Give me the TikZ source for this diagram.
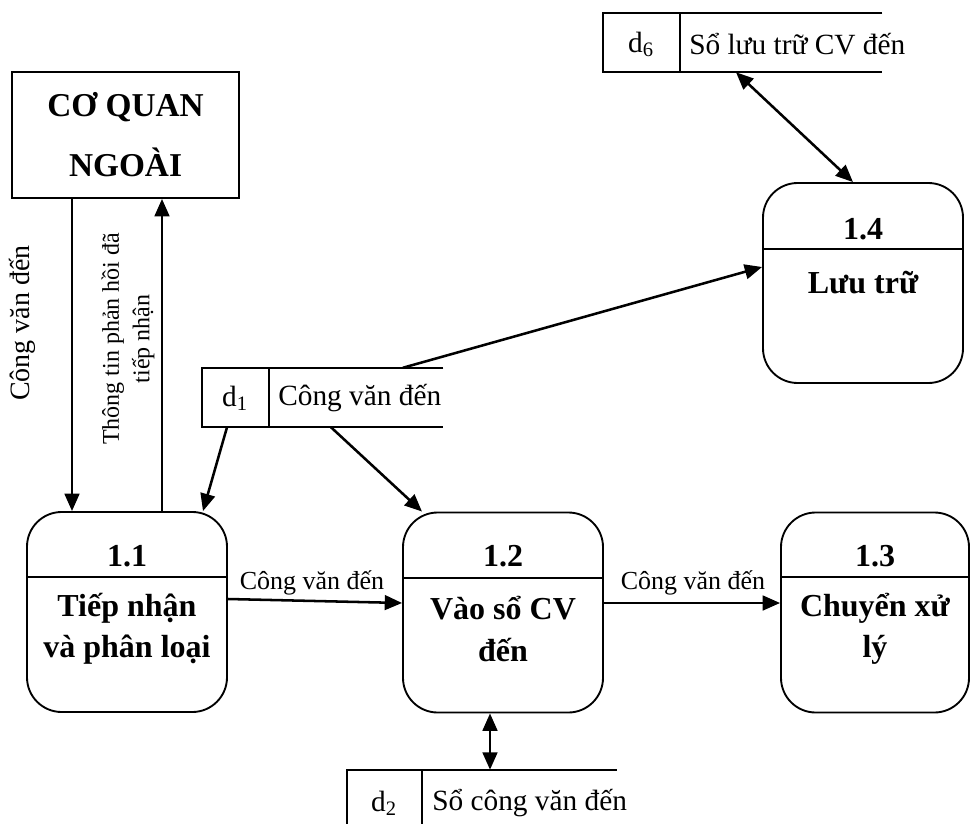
\documentclass[tikz,border=0pt]{standalone}
\usepackage{fontspec}
\setmainfont{Liberation Serif}
\usetikzlibrary{arrows.meta}

\begin{document}
\begin{tikzpicture}[x=0.75pt,y=-0.75pt,
  box/.style={draw,line width=1.4pt,inner sep=0pt},
  proc/.style={box,rounded corners=26pt,minimum width=150pt,minimum height=150pt},
  storeframe/.style={line width=1.4pt},
  tip/.style={},
  flow/.style={line width=1.9pt,-{Triangle[length=13pt,width=11pt]}},
  bothflow/.style={line width=1.9pt,{Triangle[length=13pt,width=11pt]}-{Triangle[length=13pt,width=11pt]}},
  bigtxt/.style={font=\fontsize{24}{31}\selectfont\bfseries,align=center,inner sep=0pt},
  storetxt/.style={font=\fontsize{22}{26}\selectfont,inner sep=0pt},
  flowtxt/.style={font=\fontsize{19.5}{23}\selectfont,inner sep=0pt},
]
\useasboundingbox (0,0) rectangle (971,824);

% external entity
\node[box,minimum width=170.25pt,minimum height=94.5pt] (ext) at (125.5,135) {};
\node[bigtxt,font=\fontsize{25}{45}\selectfont\bfseries] (extname) at (125.5,135) {CƠ QUAN\\NGOÀI};

% processes
\node[proc] (p1) at (127,612) {};
\draw[line width=1.4pt] (p1.west |- 0,577) -- (p1.east |- 0,577);
\node[bigtxt] (n1) at (127,556) {1.1};
\node[bigtxt] (t1) at (127,629) {Tiếp nhận\\và phân loại};

\node[proc] (p2) at (503,612.5) {};
\draw[line width=1.4pt] (p2.west |- 0,578) -- (p2.east |- 0,578);
\node[bigtxt] (n2) at (503,556) {1.2};
\node[bigtxt] (t2) at (503,629) {Vào sổ CV\\đến};

\node[proc,minimum width=141pt] (p3) at (875,612.5) {};
\draw[line width=1.4pt] (p3.west |- 0,577) -- (p3.east |- 0,577);
\node[bigtxt] (n3) at (875,556) {1.3};
\node[bigtxt] (t3) at (875,629) {Chuyển xử\\lý};

\node[proc] (p4) at (863,283) {};
\draw[line width=1.4pt] (p4.west |- 0,249) -- (p4.east |- 0,249);
\node[bigtxt] (n4) at (863,229) {1.4};
\node[bigtxt] (t4) at (863,283) {Lưu trữ};

% data stores (open on the right)
\node[inner sep=0pt,minimum width=180.75pt,minimum height=44.25pt] (s1) at (322.5,397.5) {};
\draw[storeframe] (s1.north east) -- (s1.north west) -- (s1.south west) -- (s1.south east);
\draw[storeframe] (s1.north -| 269,0) -- (s1.south -| 269,0);
\node[storetxt] (s1id) at (235,398) {d\textsubscript{1}};
\node[storetxt,anchor=west] (s1name) at (278,398) {Công văn đến};

\node[inner sep=0pt,minimum width=209.25pt,minimum height=44.25pt] (s6) at (742.5,42.5) {};
\draw[storeframe] (s6.north east) -- (s6.north west) -- (s6.south west) -- (s6.south east);
\draw[storeframe] (s6.north -| 680,0) -- (s6.south -| 680,0);
\node[storetxt] (s6id) at (641,44) {d\textsubscript{6}};
\node[storetxt,anchor=west] (s6name) at (689,44) {Sổ lưu trữ CV đến};

\node[inner sep=0pt,minimum width=202.5pt,minimum height=44.25pt] (s2) at (482,799.5) {};
\draw[storeframe] (s2.west |- 0,824) -- (s2.north west) -- (s2.north east);
\draw[storeframe] (s2.north -| 422,0) -- (422,824);
\node[storetxt] (s2id) at (384,803) {d\textsubscript{2}};
\node[storetxt,anchor=west] (s2name) at (432,803) {Sổ công văn đến};

% flows
\draw[flow] (ext.south -| 72,0) -- (p1.north -| 72,0);
\draw[flow] (p1.north -| 162,0) -- (ext.south -| 162,0);
\node[flowtxt,font=\fontsize{21}{25}\selectfont,rotate=90] (lbl1) at (22,323) {Công văn đến};
\node[flowtxt,font=\fontsize{18}{23}\selectfont,rotate=90,align=center] (lbl2) at (128,339) {Thông tin phản hồi đã\\tiếp nhận};

\draw[flow] (s1.south -| 227,0) -- (p1.north -| 203,0);
\draw[flow] (s1.south -| 331,0) -- (p2.north -| 422,0);
\draw[flow] (s1.north -| 403,0) -- (p4.west |- 0,267);

\draw[flow] (p1.east |- 0,599) -- (p2.west |- 0,603);
\node[flowtxt] (lbl3) at (312,583) {Công văn đến};
\draw[flow] (p2.east |- 0,603) -- (p3.west |- 0,603);
\node[flowtxt] (lbl4) at (693,583) {Công văn đến};

\draw[bothflow] (p2.south -| 490,0) -- (s2.north -| 490,0);
\draw[bothflow] (s6.south -| 736,0) -- (p4.north -| 853,0);
\end{tikzpicture}
\end{document}
